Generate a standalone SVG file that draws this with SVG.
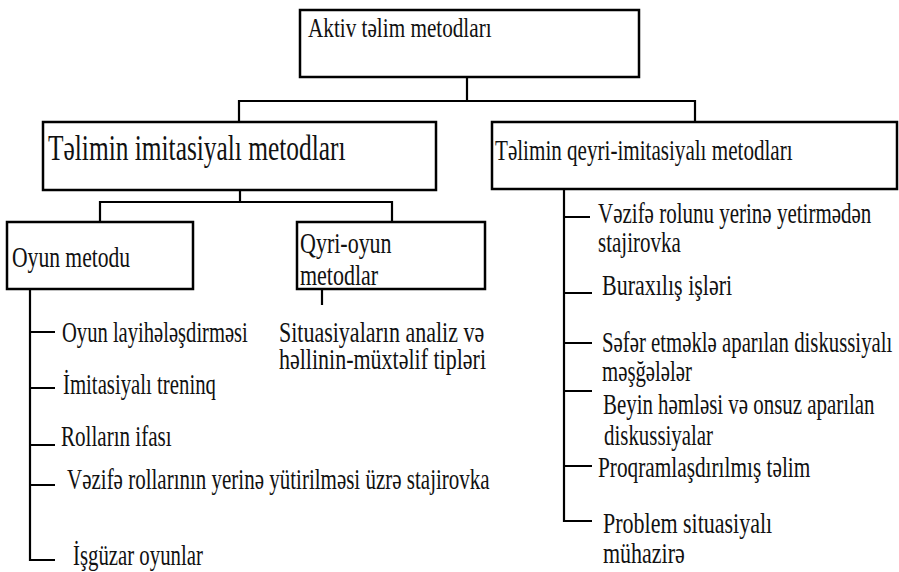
<svg xmlns="http://www.w3.org/2000/svg" width="899" height="572" viewBox="0 0 899 572">
<style>
.box{fill:#fff;stroke:#000;stroke-width:2.5}
.ln{fill:none;stroke:#000;stroke-width:2.2}
text{font-family:"Liberation Serif","Times New Roman",serif;font-size:21.5px;fill:#111}
</style>
<rect width="899" height="572" fill="#fff"/>
<g id="connectors">
<path class="ln" d="M467,77V101M239,122V101H695V122"/>
<path class="ln" d="M240,190V202M100,222V202H392V222"/>
<path class="ln" d="M322,289V305"/>
<path class="ln" d="M30,289V560H55M30,332H55M30,388H55M30,445H55M30,485H55"/>
<path class="ln" d="M564,188V521H592M564,217H590M564,293H592M564,343H592M564,391H592M564,466H592"/>
</g>
<g id="root">
<rect class="box" x="300" y="10" width="339" height="67"/>
<text transform="matrix(1,0,0,1.32,308,37)" style="font-size:21.2px">Aktiv təlim metodları</text>
</g>
<g id="imit">
<rect class="box" x="43" y="122" width="393" height="68"/>
<text transform="matrix(1,0,0,1.38,48,160)" style="font-size:25.4px">Təlimin imitasiyalı metodları</text>
</g>
<g id="qeyri">
<rect class="box" x="492" y="122" width="405" height="67"/>
<text transform="matrix(1,0,0,1.42,495,160)" style="font-size:21.1px">Təlimin qeyri-imitasiyalı metodları</text>
</g>
<g id="oyun">
<rect class="box" x="7" y="222" width="186" height="67"/>
<text transform="matrix(1,0,0,1.4,12,267)" style="font-size:21.6px">Oyun metodu</text>
</g>
<g id="qyri">
<rect class="box" x="297" y="222" width="188" height="67"/>
<text transform="matrix(1,0,0,1.38,300,253)" style="font-size:22px">Qyri-oyun</text>
<text transform="matrix(1,0,0,1.38,300,285)" style="font-size:22px">metodlar</text>
</g>
<g id="situasiya">
<text transform="matrix(1,0,0,1.38,279,342)" style="font-size:22px">Situasiyaların analiz və</text>
<text transform="matrix(1,0,0,1.38,279,369)" style="font-size:22px">həllinin-müxtəlif tipləri</text>
</g>
<g id="oyun-items">
<text transform="matrix(1,0,0,1.38,62,342)" style="font-size:20.6px">Oyun layihələşdirməsi</text>
<text transform="matrix(1,0,0,1.38,63,394)" style="font-size:20.8px">İmitasiyalı treninq</text>
<text transform="matrix(1,0,0,1.38,61,446)" style="font-size:21.1px">Rolların ifası</text>
<text transform="matrix(1,0,0,1.38,67,489)" style="font-size:21px">Vəzifə rollarının yerinə yütirilməsi üzrə stajirovka</text>
<text transform="matrix(1,0,0,1.38,73,565)" style="font-size:20.8px">İşgüzar oyunlar</text>
</g>
<g id="qeyri-items">
<text transform="matrix(1,0,0,1.38,598,223)" style="font-size:21px">Vəzifə rolunu yerinə yetirmədən</text>
<text transform="matrix(1,0,0,1.38,598,252)" style="font-size:21px">stajirovka</text>
<text transform="matrix(1,0,0,1.38,602,295)" style="font-size:22px">Buraxılış işləri</text>
<text transform="matrix(1,0,0,1.38,602,352)" style="font-size:20.8px">Səfər etməklə aparılan diskussiyalı</text>
<text transform="matrix(1,0,0,1.38,602,381)" style="font-size:20.8px">məşğələlər</text>
<text transform="matrix(1,0,0,1.38,603,414)" style="font-size:20.9px">Beyin həmləsi və onsuz aparılan</text>
<text transform="matrix(1,0,0,1.38,604,445)" style="font-size:20.9px">diskussiyalar</text>
<text transform="matrix(1,0,0,1.38,598,477)" style="font-size:21.3px">Proqramlaşdırılmış təlim</text>
<text transform="matrix(1,0,0,1.38,603,533)" style="font-size:22px">Problem situasiyalı</text>
<text transform="matrix(1,0,0,1.38,603,563)" style="font-size:22px">mühazirə</text>
</g>
</svg>
